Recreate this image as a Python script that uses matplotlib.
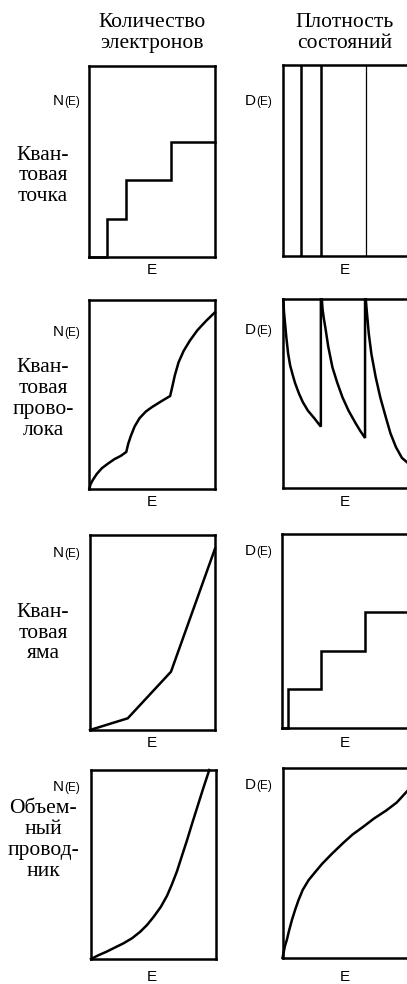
import matplotlib
matplotlib.use("Agg")
import matplotlib.pyplot as plt

# --- data (axes run 0..1 in both directions) ---
col_titles = ["Количество\nэлектронов", "Плотность\nсостояний"]
row_titles = ["Кван-\nтовая\nточка", "Кван-\nтовая\nпрово-\nлока",
              "Кван-\nтовая\nяма", "Объем-\nный\nпровод-\nник"]

# quantum dot
dot_count_x = [0.0, 0.141, 0.29, 0.65, 1.0]
dot_count_y = [0.0, 0.2, 0.4, 0.6, 0.6]
dot_levels = [0.148, 0.30, 0.654]

# quantum wire
wire_count_x = [0.0, 0.01, 0.03, 0.06, 0.1, 0.15, 0.2, 0.25, 0.294,
                0.31, 0.33, 0.36, 0.4, 0.45, 0.5, 0.57, 0.643,
                0.66, 0.68, 0.71, 0.75, 0.8, 0.86, 0.93, 1.0]
wire_count_y = [0.0, 0.025, 0.05, 0.08, 0.11, 0.135, 0.158, 0.175, 0.196,
                0.24, 0.28, 0.33, 0.375, 0.41, 0.434, 0.463, 0.492,
                0.54, 0.6, 0.67, 0.73, 0.785, 0.84, 0.89, 0.935]
wire_dos_x = [0.006, 0.012, 0.02, 0.03, 0.044, 0.06, 0.08, 0.099, 0.13, 0.16, 0.2,
              0.25, 0.302, 0.302,
              0.31, 0.315, 0.325, 0.337, 0.36, 0.393, 0.43, 0.472, 0.52, 0.575,
              0.61, 0.65, 0.65,
              0.656, 0.662, 0.67, 0.679, 0.7, 0.734, 0.77, 0.813, 0.85, 0.893,
              0.94, 1.0]
wire_dos_y = [1.0, 0.93, 0.873, 0.8, 0.714, 0.65, 0.6, 0.556, 0.5, 0.455, 0.41,
              0.37, 0.325, 1.0,
              1.0, 0.95, 0.9, 0.852, 0.75, 0.64, 0.56, 0.481, 0.41, 0.344,
              0.305, 0.265, 1.0,
              1.0, 0.95, 0.89, 0.82, 0.71, 0.587, 0.48, 0.376, 0.29, 0.217,
              0.16, 0.125]

# quantum well
well_count_x = [0.0, 0.302, 0.648, 1.0]
well_count_y = [0.0, 0.06, 0.299, 0.93]
well_dos_x = [0.0, 0.046, 0.304, 0.65, 1.0]
well_dos_y = [0.0, 0.2, 0.4, 0.6, 0.6]

# bulk
bulk_count_x = [0.0, 0.06, 0.126, 0.19, 0.261, 0.33, 0.395, 0.45, 0.503, 0.56,
                0.611, 0.65, 0.691, 0.73, 0.772, 0.81, 0.852, 0.9, 0.95]
bulk_count_y = [0.0, 0.02, 0.039, 0.06, 0.083, 0.11, 0.144, 0.18, 0.223, 0.275,
                0.335, 0.395, 0.465, 0.545, 0.63, 0.712, 0.8, 0.9, 1.0]
bulk_dos_x = [0.0, 0.006, 0.012, 0.02, 0.034, 0.05, 0.074, 0.1, 0.126, 0.16,
              0.206, 0.26, 0.314, 0.39, 0.474, 0.55, 0.634, 0.72, 0.82, 0.9, 1.0]
bulk_dos_y = [0.0, 0.02, 0.04, 0.065, 0.095, 0.14, 0.2, 0.255, 0.305, 0.36,
              0.411, 0.455, 0.498, 0.55, 0.604, 0.65, 0.691, 0.735, 0.779, 0.82, 0.893]

W, H = 407, 984
fig = plt.figure(figsize=(W / 100, H / 100), dpi=100)

SERIF = "Liberation Serif"
SANS = "Liberation Sans"
LW = 1.8


def fx(x):
    return x / W


def fy(y):
    return 1 - y / H


def add_box(left, right, top, bottom):
    ax = fig.add_axes([fx(left), fy(bottom), (right - left) / W, (bottom - top) / H])
    ax.set_xlim(0, 1)
    ax.set_ylim(0, 1)
    ax.set_xticks([])
    ax.set_yticks([])
    for s in ax.spines.values():
        s.set_linewidth(LW)
    return ax


# panel boxes in pixels: left, right, top, bottom
boxes = [
    [(89.3, 215, 66, 256.7), (282.5, 409.5, 65, 256)],
    [(89.3, 215, 300, 489), (282.5, 409.5, 299.3, 488)],
    [(90, 215, 535, 730), (282, 409.5, 534, 728.3)],
    [(91, 215.5, 770, 959), (282.5, 409.5, 768.3, 958)],
]
axes = [[add_box(*b) for b in row] for row in boxes]

kw = dict(color="black", lw=LW, solid_joinstyle="miter", clip_on=False)

axes[0][0].step(dot_count_x, dot_count_y, where="post", **kw)
for xv, w in zip(dot_levels, [1.8, 1.8, 0.9]):
    axes[0][1].axvline(xv, color="black", lw=w)

axes[1][0].plot(wire_count_x, wire_count_y, **kw)
axes[1][1].plot(wire_dos_x, wire_dos_y, **kw)

axes[2][0].plot(well_count_x, well_count_y, **kw)
axes[2][1].step(well_dos_x, well_dos_y, where="post", **kw)

axes[3][0].plot(bulk_count_x, bulk_count_y, **kw)
axes[3][1].plot(bulk_dos_x, bulk_dos_y, **kw)

# column headers
for xc, t in zip([152, 345], col_titles):
    fig.text(fx(xc), fy(33), t, family=SERIF, fontsize=15.5, ha="center",
             va="center", linespacing=1.1)

# row titles
row_centers = [176, 399, 633, 840]
for yc, t in zip(row_centers, row_titles):
    fig.text(fx(43), fy(yc), t, family=SERIF, fontsize=15.5, ha="center",
             va="center", linespacing=1.12, multialignment="center")

# N(E) / D(E) labels, big letter + smaller "(E)"
renderer = fig.canvas.get_renderer()
label_y = [(100, 100), (331, 329), (552, 550), (786, 784)]
for (yl, yr) in label_y:
    for xr, letter, yy in [(80, "N", yl), (272, "D", yr)]:
        t2 = fig.text(fx(xr), fy(yy + 5), "(E)", family=SANS, fontsize=8.5,
                      ha="right", va="baseline")
        bb = t2.get_window_extent(renderer)
        fig.text(bb.x0 / W, fy(yy + 5), letter, family=SANS, fontsize=11,
                 ha="right", va="baseline")

# E labels
e_y = [270, 502, 743, 977]
for yy in e_y:
    for xc in [152, 345]:
        fig.text(fx(xc), fy(yy), "E", family=SANS, fontsize=11, ha="center",
                 va="center")

fig.savefig("out.png", dpi=100)
